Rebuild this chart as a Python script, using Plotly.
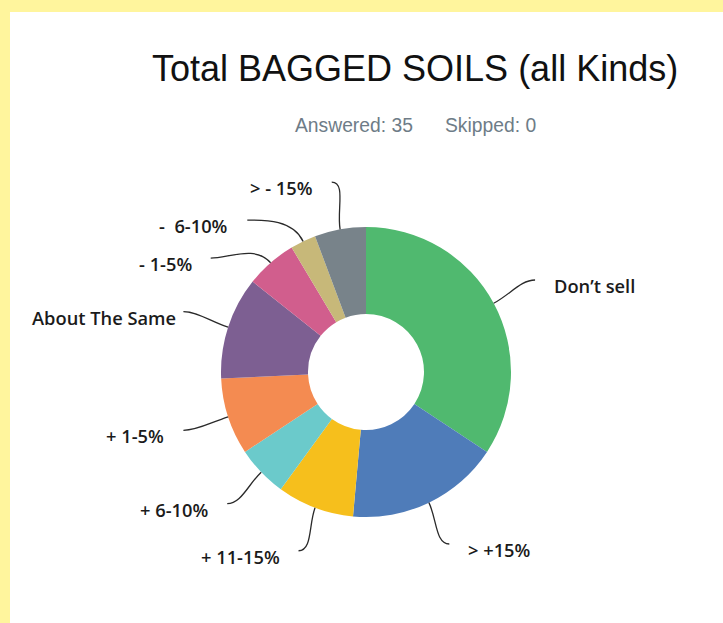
import math
import plotly.graph_objects as go

# ---- data ----
categories = ["Don’t sell", "> +15%", "+ 11-15%", "+ 6-10%", "+ 1-5%",
              "About The Same", "- 1-5%", "- \u00a06-10%", "> - 15%"]
counts = [12, 6, 3, 2, 3, 4, 2, 1, 2]
colors = ["#50B96F", "#4F7CB9", "#F6BF1C", "#6BCACB", "#F48B51",
          "#7D5F92", "#D15E8D", "#C7B879", "#78838A"]
title_text = "Total BAGGED SOILS (all Kinds)"
answered = 35
skipped = 0

# ---- layout geometry (pixels) ----
W, H = 723, 623
CX, CY, R = 366, 372, 145
HOLE = 0.4
LCY = 371
R_LAB = 192
MIN_GAP = 38
TEXT_GAP = 17
LABEL_SIZE = 18.3
MIN_LEFT = 30

total = sum(counts)
mids = []
acc = 0
for c in counts:
    mids.append(math.radians((acc + c / 2) / total * 360))
    acc += c

labels = []
for i, t in enumerate(mids):
    side = 1 if math.sin(t) > 0 else -1
    labels.append(dict(i=i, t=t, side=side, y=LCY - R_LAB * math.cos(t)))
for side in (1, -1):
    grp = sorted([l for l in labels if l["side"] == side], key=lambda l: l["y"])
    for a, b in zip(grp, grp[1:]):
        if b["y"] - a["y"] < MIN_GAP:
            b["y"] = a["y"] + MIN_GAP
for l in labels:
    dy = l["y"] - LCY
    l["x"] = CX + l["side"] * math.sqrt(max(R_LAB ** 2 - dy ** 2, 0))

fig = go.Figure()
fig.add_trace(go.Pie(
    labels=categories, values=counts, sort=False, direction="clockwise",
    rotation=0, hole=HOLE, textinfo="none", hoverinfo="label+value+percent",
    marker=dict(colors=colors, line=dict(width=0)),
    domain=dict(x=[(CX - R) / W, (CX + R) / W],
                y=[1 - (CY + R) / H, 1 - (CY - R) / H]),
    showlegend=False,
))

shapes = [dict(type="rect", xref="x", yref="y", x0=10, y0=12, x1=W + 5, y1=H + 5,
               fillcolor="white", line=dict(width=0), layer="below")]
annotations = []
label_font = dict(family="Open Sans", size=LABEL_SIZE, color="#1b1b1b", weight=600)
for l in labels:
    t = l["t"]
    ux, uy = math.sin(t), -math.cos(t)
    p0 = (CX + R * ux, CY + R * uy)
    p3 = (l["x"], l["y"])
    d = math.hypot(p3[0] - p0[0], p3[1] - p0[1])
    c1 = (p0[0] + ux * 0.4 * d, p0[1] + uy * 0.4 * d)
    c2 = (p3[0] - l["side"] * 0.3 * d, p3[1])
    path = (f"M {p0[0]:.2f},{p0[1]:.2f} C {c1[0]:.2f},{c1[1]:.2f} "
            f"{c2[0]:.2f},{c2[1]:.2f} {p3[0]:.2f},{p3[1]:.2f}")
    shapes.append(dict(type="path", xref="x", yref="y", path=path,
                       line=dict(color="#2a2a2a", width=1.3)))
    text = categories[l["i"]]
    tx = p3[0] + l["side"] * TEXT_GAP
    anchor = "left" if l["side"] > 0 else "right"
    est_w = 0.571 * LABEL_SIZE * len(text)
    if l["side"] < 0 and tx - est_w < MIN_LEFT:
        tx, anchor = MIN_LEFT, "left"
    annotations.append(dict(
        x=tx, y=p3[1] + 5.5, xref="x", yref="y", text=text, showarrow=False,
        xanchor=anchor, yanchor="middle", font=label_font,
    ))

annotations.append(dict(x=415, y=68, xref="x", yref="y", text=title_text,
                        showarrow=False, xanchor="center", yanchor="middle",
                        font=dict(family="Liberation Sans", size=36, color="#111111")))
annotations.append(dict(x=354, y=125, xref="x", yref="y", text=f"Answered: {answered}",
                        showarrow=False, xanchor="center", yanchor="middle",
                        font=dict(family="Liberation Sans", size=19.3, color="#6E7C87")))
annotations.append(dict(x=490, y=125, xref="x", yref="y", text=f"Skipped: {skipped}",
                        showarrow=False, xanchor="center", yanchor="middle",
                        font=dict(family="Liberation Sans", size=19.3, color="#6E7C87")))

fig.update_layout(
    width=W, height=H, margin=dict(l=0, r=0, t=0, b=0),
    paper_bgcolor="#FFF59D", plot_bgcolor="rgba(0,0,0,0)",
    xaxis=dict(range=[0, W], visible=False, fixedrange=True, domain=[0, 1]),
    yaxis=dict(range=[H, 0], visible=False, fixedrange=True, domain=[0, 1]),
    shapes=shapes, annotations=annotations,
)

fig.write_html("out.html", config={"displayModeBar": False},
               post_script="document.body.style.margin='0';")
